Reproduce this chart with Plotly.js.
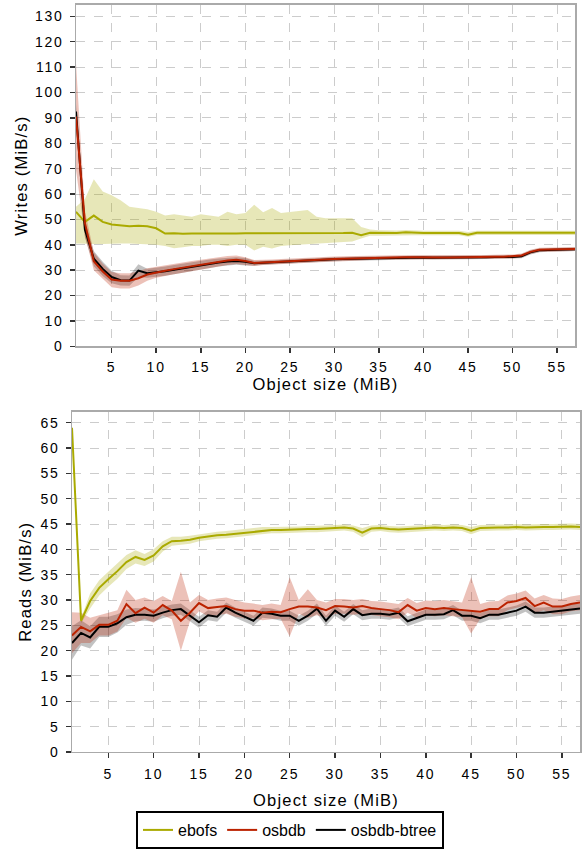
<!DOCTYPE html>
<html><head><meta charset="utf-8">
<script src="https://cdn.plot.ly/plotly-3.0.1.min.js"></script>
<style>
html,body{margin:0;padding:0;background:#fff}
#chart{width:583px;height:849px}
#chart .g-xtitle text, #chart .g-ytitle text, #chart .g-x2title text, #chart .g-y2title text{letter-spacing:1.2px}
#chart .xtick text, #chart .ytick text, #chart .x2tick text, #chart .y2tick text{letter-spacing:1.8px}
</style>
</head><body><div id="chart"></div>
<script>
const sizes = [1,2,3,4,5,6,7,8,9,10,11,12,13,14,15,16,17,18,19,20,21,22,23,24,25,26,27,28,29,30,31,32,33,34,35,36,37,38,39,40,41,42,43,44,45,46,47,48,49,50,51,52,53,54,55,56,57];

// ---- Writes (MiB/s) ----
const writeEbofs = [53,49,51.5,49,48,47.5,47.3,47.5,47.3,46.5,44.4,44.5,44.3,44.4,44.4,44.3,44.2,44.3,44.4,44.5,44.5,44.6,44.6,44.6,44.6,44.5,44.4,44.5,44.5,44.5,44.6,44.7,43.8,44.7,44.6,44.6,44.6,44.9,44.7,44.6,44.6,44.6,44.6,44.6,44.0,44.7,44.7,44.7,44.7,44.7,44.7,44.7,44.7,44.7,44.7,44.7,44.7];
const writeEbofsHi = [55,58,65.8,61,59.5,57.5,55,54.5,54,53,51.5,52,51.5,51,52,51.5,51,53,52,52.5,55.8,52.8,54.5,52.5,53,53.2,53.7,51,50.5,50.5,50.5,50.5,47,46,45.7,45.6,45.6,45.8,45.6,45.5,45.5,45.5,45.5,45.5,45,45.5,45.5,45.5,45.5,45.5,45.5,45.5,45.5,45.5,45.5,45.5,45.5];
const writeEbofsLo = [40.5,40.3,40.3,40.3,40.5,40.5,40.5,40.3,40,40,39.5,38.6,39,39.5,39.5,40,40,39.5,40,40,37.7,39.2,38.5,39.5,39.8,40,40,40.3,40.5,40.8,41,41.3,42.5,43.6,43.6,43.7,43.7,44,43.8,43.8,43.8,43.8,43.8,43.8,43.2,43.9,43.9,43.9,43.9,43.9,43.9,43.9,43.9,43.9,43.9,43.9,43.9];
const writeOsbdb = [90.5,48.5,33.5,29.5,26.3,25.8,25.8,26.8,28.3,29.2,29.8,30.4,31,31.6,32.3,32.8,33.3,33.8,34.1,33.6,32.8,33,33.2,33.4,33.6,33.8,33.9,34.1,34.2,34.4,34.5,34.6,34.7,34.8,35,35,35.1,35.1,35.1,35,35,35,35,35.1,35,35.1,35.2,35.3,35.3,35.4,35.8,37.2,38,38.1,38.1,38.2,38.3];
const writeOsbdbErr = [21,5,3.5,3,3,3,3,2.8,2.5,2.2,2,2,2,2,1.8,1.8,1.8,1.8,1.7,1.5,1.2,1,1,1,1,1,1,1,1,1,1,1,1,0.8,0.8,0.8,0.8,0.8,0.8,0.8,0.8,0.8,0.8,0.8,0.8,0.8,0.8,0.8,0.8,0.8,0.8,0.8,0.8,0.8,0.8,0.8,0.8];
const writeBtree = [92.5,46,34.5,30.5,27.3,26,25.9,29.8,28.8,29.1,29.6,30.2,30.8,31.4,32,32.5,33,33.4,33.6,33.3,32.7,32.9,33.1,33.3,33.5,33.7,33.8,34,34.1,34.3,34.4,34.5,34.6,34.7,34.8,34.9,35,35,35,35,34.9,34.9,35,35,35,35.1,35.1,35.2,35.2,35.2,35.5,37,37.8,38,38,38.1,38.2];
const writeBtreeErr = [3,3,3,2.8,2.5,2,2,2.5,1.8,1.8,1.8,1.8,1.8,1.8,1.7,1.7,1.6,1.6,1.5,1.5,1,0.8,0.8,0.8,0.8,0.8,0.8,0.8,0.8,0.8,0.8,0.8,0.8,0.7,0.7,0.7,0.7,0.7,0.7,0.7,0.7,0.7,0.7,0.7,0.7,0.7,0.7,0.7,0.7,0.7,0.8,0.8,0.7,0.7,0.7,0.7,0.7];

// ---- Reads (MiB/s) ----
const readEbofs = [64,25.9,29.8,32.4,34.1,35.7,37.5,38.5,37.9,38.8,40.6,41.6,41.7,41.9,42.3,42.6,42.8,42.9,43.1,43.2,43.4,43.7,43.8,43.8,43.9,43.9,44,44,44.1,44.2,44.3,44.1,43.3,44.1,44.2,44,43.9,44,44.1,44.2,44.3,44.2,44.3,44.2,43.7,44.2,44.3,44.3,44.3,44.4,44.3,44.4,44.4,44.4,44.5,44.5,44.4];
const readEbofsErr = [0.5,0.5,1.5,1.5,1.5,1.5,1.4,1.3,1.2,1.2,1,0.9,0.8,0.8,0.7,0.7,0.7,0.7,0.7,0.7,0.7,0.7,0.6,0.6,0.6,0.6,0.6,0.6,0.6,0.6,0.6,0.6,0.9,0.6,0.6,0.6,0.6,0.6,0.6,0.6,0.6,0.6,0.6,0.6,0.7,0.6,0.6,0.6,0.6,0.6,0.6,0.6,0.6,0.6,0.6,0.6,0.6];
const readOsbdb = [23,24.7,23.8,25.1,25.1,25.9,29.2,27.4,28.5,27.5,29,27.9,25.9,27.5,29.4,28.4,28.6,28.8,28.2,27.9,27.9,27.5,27.7,27.6,28.2,28.7,28.7,28.5,28,28.8,28.7,28.5,28.8,28.4,28.2,28,27.6,29,27.9,28.4,28.2,28.4,28.2,28,27.9,27.7,28.2,28.2,29.5,29.8,30.4,28.8,29.5,28.7,28.7,29.2,29.5];
const readOsbdbHi = [27.6,27.5,26.5,27,27.5,28,32,30,30.5,29.8,30.8,29.8,35.6,29.5,31,30,30.3,30.5,30,29.5,29.3,29,29.3,29,34.5,30,32.1,30,29.5,30.2,30.2,30,30.2,29.8,29.7,29.5,29.2,30.4,29.4,29.9,29.8,30,29.8,29.5,34.5,29.2,29.7,29.8,30.9,31.3,31.9,30.3,31,30.3,30.2,30.7,31];
const readOsbdbLo = [19.5,21.5,21.5,23,23,23.8,26.5,25.5,26.3,25.5,27,26.2,20,25.8,27.8,26.8,27,27.3,26.7,26.4,26.4,26,26.2,26.3,22.8,27.3,26.5,27,26.5,27.3,27.3,27.1,27.3,27,26.8,26.6,26.2,27.5,26.5,27,26.8,27,26.8,26.6,23.4,26.3,26.8,26.8,28,28.4,28.9,27.4,28,27.2,27.2,27.8,28];
const readBtree = [21.5,23.5,22.6,24.7,24.7,25.4,26.6,27.1,27.1,26.9,27.5,28,28.2,26.9,25.6,27,26.7,28.5,27.5,26.7,25.9,27.5,27.3,26.9,26.9,25.9,26.9,28.3,25.9,27.9,26.7,28.2,27,27.3,27.3,27.1,27.5,25.8,26.4,27.1,27.1,27.2,28,26.9,26.9,26.4,27.1,27.1,27.5,27.9,28.7,27.5,27.5,27.7,27.9,28.1,28.3];
const readBtreeErr = [3.3,2.5,2.2,2,2,1.8,1.5,1.3,1.2,1.2,1.1,1.1,1.1,1.1,1.1,1,1,1,1,1,1,1,1,1,1,1,1,1,1,1,1,1,1,1,1,1,1,1,1,1,1,1,1,1,1,1,1,1,1,1,1,1,1,1,1,1,1];

const seriesNames = ['ebofs','osbdb','osbdb-btree'];
const lineColors = ['#aaaa00','#bb2200','#000000'];
const bandColors = ['rgba(170,170,0,0.28)','rgba(187,34,0,0.28)','rgba(0,0,0,0.24)'];

const add = (a,b) => a.map((v,i)=>v+b[i]);
const sub = (a,b) => a.map((v,i)=>v-b[i]);

function band(lo, hi, idx, xa, ya){
  return [
    {x:sizes, y:lo, xaxis:xa, yaxis:ya, mode:'lines', line:{width:0,color:bandColors[idx]}, showlegend:false, hoverinfo:'skip'},
    {x:sizes, y:hi, xaxis:xa, yaxis:ya, mode:'lines', line:{width:0,color:bandColors[idx]}, fill:'tonexty', fillcolor:bandColors[idx], showlegend:false, hoverinfo:'skip'}
  ];
}
function line(y, idx, xa, ya, legend){
  return {x:sizes, y:y, xaxis:xa, yaxis:ya, mode:'lines', name:seriesNames[idx],
    line:{color:lineColors[idx], width:2}, showlegend:legend, legendrank:idx+1};
}

const data = [].concat(
  band(writeEbofsLo, writeEbofsHi, 0, 'x', 'y'),
  band(sub(writeBtree,writeBtreeErr), add(writeBtree,writeBtreeErr), 2, 'x', 'y'),
  band(sub(writeOsbdb,writeOsbdbErr), add(writeOsbdb,writeOsbdbErr), 1, 'x', 'y'),
  band(sub(readEbofs,readEbofsErr), add(readEbofs,readEbofsErr), 0, 'x2', 'y2'),
  band(sub(readBtree,readBtreeErr), add(readBtree,readBtreeErr), 2, 'x2', 'y2'),
  band(readOsbdbLo, readOsbdbHi, 1, 'x2', 'y2'),
  [line(writeEbofs,0,'x','y',true), line(writeBtree,2,'x','y',true), line(writeOsbdb,1,'x','y',true),
   line(readEbofs,0,'x2','y2',false), line(readBtree,2,'x2','y2',false), line(readOsbdb,1,'x2','y2',false)]
);

const H = 849, W = 583;
const axBase = {
  showline:true, mirror:true, linecolor:'#aaaaaa', linewidth:1.5,
  ticks:'outside', ticklen:5, tickcolor:'#333', tickwidth:1.5,
  showgrid:true, gridcolor:'#cccccc', griddash:'dash', gridwidth:1,
  zeroline:false, tickfont:{size:14, color:'#000'}
};
const font = {family:'"Liberation Sans", Arial, sans-serif', size:14, color:'#000'};
const layout = {
  width:W, height:H, margin:{l:0,r:0,t:0,b:0},
  paper_bgcolor:'#fff', plot_bgcolor:'#fff', font:font,
  xaxis: Object.assign({}, axBase, {domain:[76/W, 575/W], range:[1,57], dtick:5, tick0:0, anchor:'y', ticklabelstandoff:2,
    title:{text:'Object size (MiB)', font:{size:16.5}, standoff:4}}),
  yaxis: Object.assign({}, axBase, {domain:[1-350/H, 1-5/H], range:[0,134.5], dtick:10, anchor:'x', ticklabelstandoff:3,
    title:{text:'Writes (MiB/s)', font:{size:16.5}, standoff:8}}),
  xaxis2: Object.assign({}, axBase, {domain:[72/W, 580/W], range:[1,57], dtick:5, tick0:0, anchor:'y2', ticklabelstandoff:4,
    title:{text:'Object size (MiB)', font:{size:16.5}, standoff:13}}),
  yaxis2: Object.assign({}, axBase, {domain:[1-760/H, 1-416/H], range:[0,67.2], dtick:5, anchor:'x2', ticklabelstandoff:3,
    title:{text:'Reads (MiB/s)', font:{size:16.5}, standoff:8}}),
  legend:{orientation:'h', x:136/W, xanchor:'left', y:1-820/H, yanchor:'top',
    bordercolor:'#000', borderwidth:2, bgcolor:'#fff', font:{size:16}, itemwidth:30, traceorder:'normal'}
};
Plotly.newPlot('chart', data, layout, {displayModeBar:false, staticPlot:true});
</script>
</body></html>
